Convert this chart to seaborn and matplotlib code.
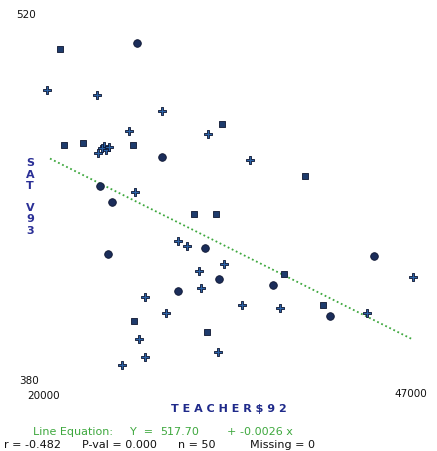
import matplotlib
matplotlib.use("Agg")
import matplotlib.pyplot as plt
import seaborn as sns
import pandas as pd

# ---- data ----
salary = [21177, 26842, 20221, 23899, 28681, 33095, 32065, 26253, 21471, 22869,
          24414, 23973, 24561, 26548, 28681, 24120, 26695, 35155, 39202, 25003,
          31036, 32654, 29858, 30521, 31845, 24708, 33243, 31403, 32875, 31550,
          29858, 27431, 28976, 26621, 26989, 31992, 27431, 32801, 25738, 44278,
          47147, 37657, 36848, 34567, 37363, 40526, 41041, 43763, 24267, 24782]
sat_v93 = [506.6, 508.9, 490.9, 488.9, 482.8, 477.8, 474.0, 475.1, 469.8, 470.5,
           469.4, 466.7, 467.8, 469.8, 465.2, 454.0, 451.7, 464.0, 457.9, 447.9,
           443.3, 443.3, 432.9, 431.0, 430.2, 427.9, 424.1, 421.4, 418.4, 414.9,
           413.8, 411.5, 405.3, 402.3, 395.3, 398.0, 388.4, 390.4, 385.4, 427.2,
           419.1, 420.3, 416.1, 408.4, 407.2, 408.4, 404.2, 405.3, 468.6, 469.0]
group = ["s", "o", "p", "p", "p", "s", "p", "p", "s", "s",
         "p", "p", "p", "s", "o", "o", "p", "p", "s", "o",
         "s", "s", "p", "p", "o", "o", "p", "p", "o", "p",
         "o", "p", "p", "s", "p", "s", "p", "p", "p", "o",
         "p", "s", "o", "p", "p", "s", "o", "p", "p", "p"]

fit_intercept = 517.70
fit_slope = -0.0026
line_x = [20441, 47147]

x_range = [20000, 47000]
y_range = [380, 520]
x_tick_labels = ["20000", "47000"]
y_tick_labels = ["380", "520"]

x_title = "T E A C H E R $ 9 2"
y_title = ["S", "A", "T", "", "V", "9", "3"]
eq_parts = ["Line Equation:", "Y  =", "517.70", "+", "-0.0026 x"]
stat_parts = ["r = -0.482", "P-val = 0.000", "n = 50", "Missing = 0"]

df = pd.DataFrame({"salary": salary, "sat": sat_v93, "grp": group})
line_df = pd.DataFrame({"x": line_x,
                        "y": [fit_intercept + fit_slope * v for v in line_x]})

# ---- figure ----
sns.set_style("white")
W, H = 437, 452
fig = plt.figure(figsize=(W / 100, H / 100), dpi=100)
fig.patch.set_facecolor("white")

def fx(px):
    return px / W

def fy(py):
    return 1 - py / H

ax = fig.add_axes([fx(44), fy(380), fx(411) - fx(44), fy(15) - fy(380)])
ax.set_xlim(*x_range)
ax.set_ylim(*y_range)

sns.lineplot(data=line_df, x="x", y="y", ax=ax, color="#3ea83e",
             linestyle=(0, (1, 1.5)), linewidth=1.3, clip_on=False)

palette = {"o": "#1b2d5a", "s": "#1e3b6c", "p": "#2b62a6"}
markers = {"o": "o", "s": "s", "p": "P"}
sizes = {"o": 30, "s": 20, "p": 28}
for g in ["p", "s", "o"]:
    sub = df[df.grp == g]
    sns.scatterplot(data=sub, x="salary", y="sat", ax=ax, color=palette[g],
                    marker=markers[g], s=sizes[g], edgecolor="#0d1530",
                    linewidth=0.6, clip_on=False, zorder=3, legend=False)

ax.axis("off")

# corner axis labels
fs = 7.5
fig.text(fx(26), fy(15), y_tick_labels[1], ha="center", va="center", fontsize=fs, color="#111111")
fig.text(fx(29), fy(381), y_tick_labels[0], ha="center", va="center", fontsize=fs, color="#111111")
fig.text(fx(44), fy(396), x_tick_labels[0], ha="center", va="center", fontsize=fs, color="#111111")
fig.text(fx(411), fy(394), x_tick_labels[1], ha="center", va="center", fontsize=fs, color="#111111")

# axis titles
fig.text(fx(229), fy(409), x_title, ha="center", va="center", fontsize=8,
         fontweight="bold", color="#1f2a8a")
fig.text(fx(30), fy(197), "\n".join(y_title), ha="center", va="center", fontsize=8,
         fontweight="bold", color="#2a2f96", linespacing=1.15)

# equation and statistics
eq_x = [33, 130, 160, 227, 240]
for px, t in zip(eq_x, eq_parts):
    fig.text(fx(px), fy(432), t, ha="left", va="center", fontsize=8, color="#3ea83e")
stat_x = [4, 82, 178, 250]
for px, t in zip(stat_x, stat_parts):
    fig.text(fx(px), fy(445), t, ha="left", va="center", fontsize=8, color="#111111")

fig.savefig("out.png", dpi=100, facecolor="white")
